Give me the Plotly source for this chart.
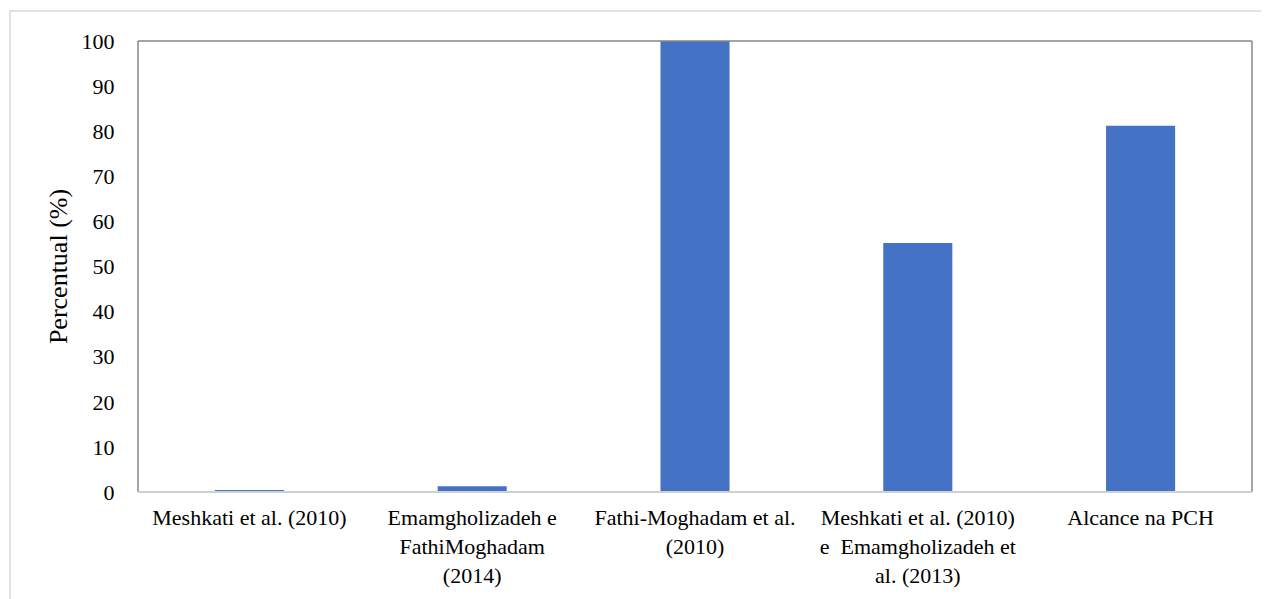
import plotly.graph_objects as go

categories = [
    "Meshkati et al. (2010)",
    "Emamgholizadeh e<br>FathiMoghadam<br>(2014)",
    "Fathi-Moghadam et al.<br>(2010)",
    "Meshkati et al. (2010)<br>e  Emamgholizadeh et<br>al. (2013)",
    "Alcance na PCH",
]
values = [0.3, 1.3, 100, 55.2, 81.2]
y_ticks = list(range(0, 101, 10))

# page body has an 8px default margin, so the figure origin sits at (8, 8)
OFF = 8
W, H = 1269 - OFF, 599 - OFF
L, R, T, B = 138 - OFF, 17, 41 - OFF, 107
pw, ph = W - L - R, H - T - B

fig = go.Figure(go.Bar(x=categories, y=values, marker_color="#4472C4",
                       marker_line_width=0))

font = dict(family="Liberation Serif, Times New Roman, serif", color="#000000")
fig.update_layout(
    width=W, height=H,
    margin=dict(l=L, r=R, t=T, b=B),
    paper_bgcolor="white", plot_bgcolor="white",
    bargap=0.69,
    showlegend=False,
    font=dict(size=22, **font),
    xaxis=dict(showgrid=False, showline=False, zeroline=False,
               tickfont=dict(size=22, **font), ticks="outside",
               ticklen=6, tickcolor="rgba(0,0,0,0)"),
    yaxis=dict(range=[0, 100], tickvals=y_ticks, showgrid=False,
               showline=False, zeroline=False,
               tickfont=dict(size=22, **font),
               ticks="outside", ticklen=18, tickcolor="rgba(0,0,0,0)",
               title=dict(text="Percentual (%)", font=dict(size=26, **font),
                          standoff=6)),
    shapes=[
        dict(type="rect", xref="paper", yref="paper",
             x0=(10 - OFF - L) / pw, x1=1.2, y0=-0.5,
             y1=1 + (T - (11 - OFF)) / ph,
             line=dict(color="#d9d9d9", width=1.5), layer="below"),
        dict(type="line", xref="paper", yref="paper", x0=0, x1=0, y0=0, y1=1,
             line=dict(color="#868686", width=1.5)),
        dict(type="line", xref="paper", yref="paper", x0=0, x1=1, y0=1, y1=1,
             line=dict(color="#868686", width=1.5)),
        dict(type="line", xref="paper", yref="paper", x0=1, x1=1, y0=0, y1=1,
             line=dict(color="#868686", width=1.5)),
        dict(type="line", xref="paper", yref="paper", x0=0, x1=1, y0=0, y1=0,
             line=dict(color="#d0d0d0", width=2)),
    ],
)

fig.write_html("out.html")
